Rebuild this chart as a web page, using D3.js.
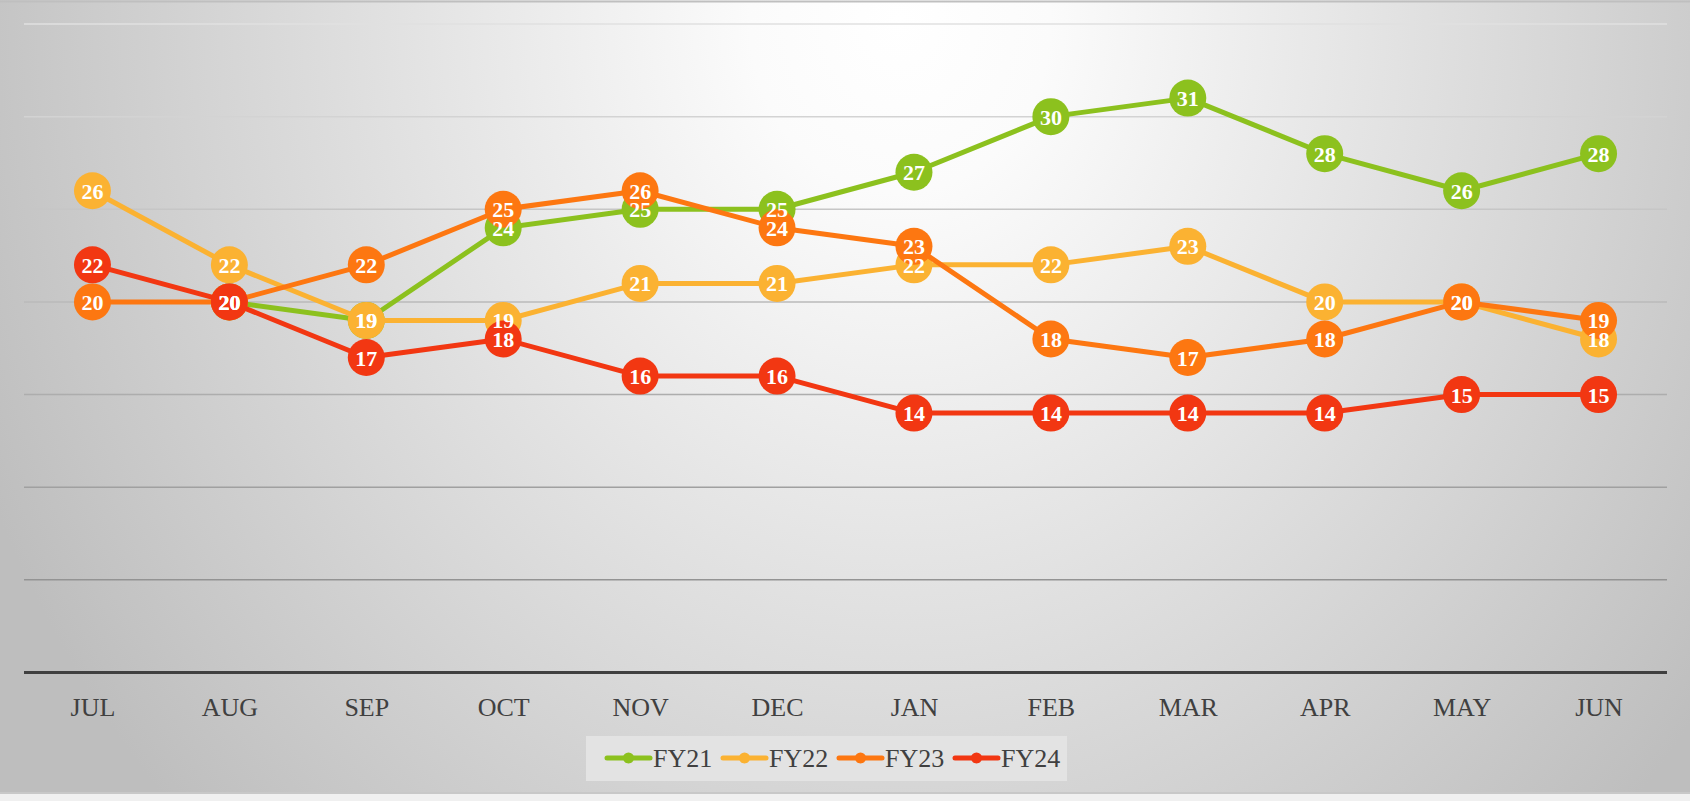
<!DOCTYPE html>
<html>
<head>
<meta charset="utf-8">
<script src="https://cdn.jsdelivr.net/npm/d3@7"></script>
<style>
  html, body { margin: 0; padding: 0; background: #f0f0f0; }
  svg { display: block; }
</style>
</head>
<body>
<div class="wrapper"></div>
<script>
var months = ["JUL", "AUG", "SEP", "OCT", "NOV", "DEC", "JAN", "FEB", "MAR", "APR", "MAY", "JUN"];
var seriesNames = ["FY21", "FY22", "FY23", "FY24"];
var fy21 = [null, 20, 19, 24, 25, 25, 27, 30, 31, 28, 26, 28];
var fy22 = [26, 22, 19, 19, 21, 21, 22, 22, 23, 20, 20, 18];
var fy23 = [20, 20, 22, 25, 26, 24, 23, 18, 17, 18, 20, 19];
var fy24 = [22, 20, 17, 18, 16, 16, 14, 14, 14, 14, 15, 15];
var colors = ["#8cc11e", "#fbb232", "#fd7711", "#f23712"];
var yTicks = [5, 10, 15, 20, 25, 30, 35];

var w = 1690,
    h = 801;

var svg = d3.select(".wrapper").append("svg")
    .attr("width", w)
    .attr("height", h);

// background gradient, white near the top middle, grey at the sides
var defs = svg.append("defs");
var grad = defs.append("radialGradient")
    .attr("id", "bg")
    .attr("gradientUnits", "userSpaceOnUse")
    .attr("cx", 0).attr("cy", 0).attr("r", 1)
    .attr("gradientTransform", "translate(900,20) scale(1000,1150)");
grad.append("stop").attr("offset", "0").attr("stop-color", "#ffffff");
grad.append("stop").attr("offset", "0.15").attr("stop-color", "#fbfbfb");
grad.append("stop").attr("offset", "1").attr("stop-color", "#bebebe");

svg.append("rect")
    .attr("x", 0).attr("y", 0)
    .attr("width", w).attr("height", 793)
    .attr("fill", "url(#bg)");
svg.append("line")
    .attr("x1", 0).attr("x2", w).attr("y1", 1.5).attr("y2", 1.5)
    .attr("stroke", "#bfbfbf").attr("stroke-width", 2);
svg.append("line")
    .attr("x1", 0).attr("x2", w).attr("y1", 793).attr("y2", 793)
    .attr("stroke", "#c8c8c8").attr("stroke-width", 2);

var plotLeft = 24, plotRight = 1667, plotTop = 24, plotBottom = 672.5;

var x = d3.scalePoint()
    .domain(months)
    .range([plotLeft, plotRight])
    .padding(0.5);

var y = d3.scaleLinear()
    .domain([0, 35])
    .range([plotBottom, plotTop]);

var gridColor = d3.scaleLinear()
    .domain([5, 35])
    .range(["#939393", "#e0e0e0"]);

svg.append("g").selectAll("line")
    .data(yTicks)
  .enter().append("line")
    .attr("x1", plotLeft).attr("x2", plotRight)
    .attr("y1", function(d) { return y(d); })
    .attr("y2", function(d) { return y(d); })
    .attr("stroke", function(d) { return gridColor(d); })
    .attr("stroke-width", 1.5);

// x axis
var xAxis = svg.append("g")
    .attr("transform", "translate(0," + plotBottom + ")")
    .call(d3.axisBottom(x).tickSize(0).tickPadding(25));
xAxis.select(".domain")
    .attr("stroke", "#404040")
    .attr("stroke-width", 3)
    .attr("d", "M" + plotLeft + ",0H" + plotRight);
xAxis.selectAll("text")
    .attr("fill", "#404040")
    .style("font-family", "'Liberation Serif', serif")
    .style("font-size", "26px");

var series = [fy21, fy22, fy23, fy24].map(function(vals, i) {
  return {
    name: seriesNames[i],
    color: colors[i],
    points: vals.map(function(v, j) { return { m: months[j], v: v }; })
                .filter(function(p) { return p.v != null; })
  };
});

var line = d3.line()
    .x(function(d) { return x(d.m); })
    .y(function(d) { return y(d.v); });

var groups = svg.selectAll("g.series")
    .data(series)
  .enter().append("g")
    .attr("class", "series");

groups.append("path")
    .attr("d", function(d) { return line(d.points); })
    .attr("fill", "none")
    .attr("stroke", function(d) { return d.color; })
    .attr("stroke-width", 5)
    .attr("stroke-linejoin", "round");

groups.selectAll("circle")
    .data(function(d) { return d.points.map(function(p) { return { m: p.m, v: p.v, color: d.color }; }); })
  .enter().append("circle")
    .attr("cx", function(d) { return x(d.m); })
    .attr("cy", function(d) { return y(d.v); })
    .attr("r", 18.5)
    .attr("fill", function(d) { return d.color; });

// data labels go on top of everything
var labels = svg.append("g");
series.forEach(function(s) {
  labels.selectAll(null)
      .data(s.points)
    .enter().append("text")
      .attr("x", function(d) { return x(d.m); })
      .attr("y", function(d) { return y(d.v) + 8; })
      .attr("text-anchor", "middle")
      .attr("fill", "#ffffff")
      .style("font-family", "'Liberation Serif', serif")
      .style("font-weight", "bold")
      .style("font-size", "22px")
      .text(function(d) { return d.v; });
});

// legend
var legend = svg.append("g");
legend.append("rect")
    .attr("x", 586).attr("y", 736)
    .attr("width", 481).attr("height", 45)
    .attr("fill", "#e3e3e3");

var item = legend.selectAll("g.item")
    .data(series)
  .enter().append("g")
    .attr("class", "item")
    .attr("transform", function(d, i) { return "translate(" + (607 + i * 116) + ",758)"; });

item.append("line")
    .attr("x1", 0).attr("x2", 43)
    .attr("stroke", function(d) { return d.color; })
    .attr("stroke-width", 5)
    .attr("stroke-linecap", "round");
item.append("circle")
    .attr("cx", 21.5)
    .attr("r", 5.5)
    .attr("fill", function(d) { return d.color; });
item.append("text")
    .attr("x", 46)
    .attr("y", 9)
    .attr("fill", "#404040")
    .style("font-family", "'Liberation Serif', serif")
    .style("font-size", "26px")
    .text(function(d) { return d.name; });
</script>
</body>
</html>
